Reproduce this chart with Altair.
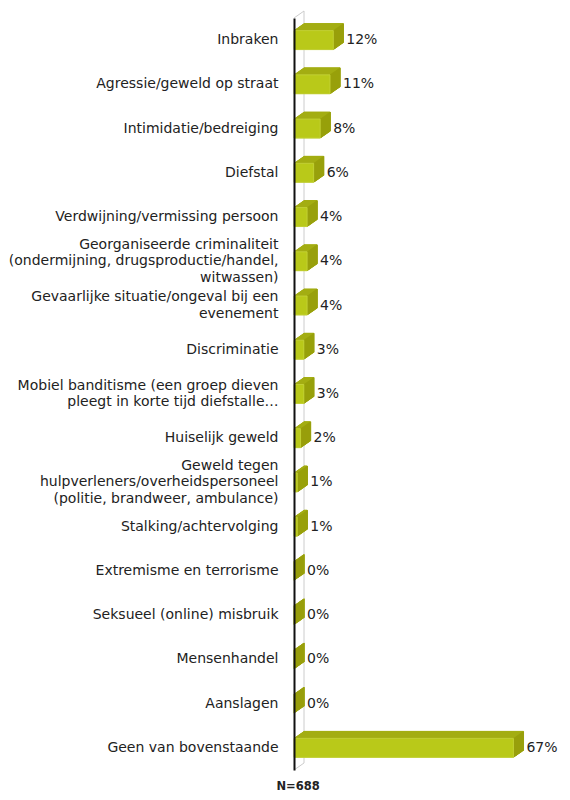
import altair as alt
import pandas as pd

categories = [
    "Inbraken",
    "Agressie/geweld op straat",
    "Intimidatie/bedreiging",
    "Diefstal",
    "Verdwijning/vermissing persoon",
    "Georganiseerde criminaliteit|(ondermijning, drugsproductie/handel,|witwassen)",
    "Gevaarlijke situatie/ongeval bij een|evenement",
    "Discriminatie",
    "Mobiel banditisme (een groep dieven|pleegt in korte tijd diefstalle…",
    "Huiselijk geweld",
    "Geweld tegen|hulpverleners/overheidspersoneel|(politie, brandweer, ambulance)",
    "Stalking/achtervolging",
    "Extremisme en terrorisme",
    "Seksueel (online) misbruik",
    "Mensenhandel",
    "Aanslagen",
    "Geen van bovenstaande",
]
values = [12, 11, 8, 6, 4, 4, 4, 3, 3, 2, 1, 1, 0, 0, 0, 0, 67]
footnote = "N=688"

FRONT = "#B9C919"
TOP = "#A3AD12"
SIDE = "#98A00C"
FONT = "DejaVu Sans"
W, H = 262, 752
DX, DY = 10, -7
LH = 16.5

df = pd.DataFrame({"cat": categories, "value": values})
wall = pd.DataFrame({"x0": [0]})

label_offset = {
    "condition": [
        {"test": "length(split(datum.value, '|')) == 3", "value": -LH},
        {"test": "length(split(datum.value, '|')) == 2", "value": -LH / 2},
    ],
    "value": 0,
}

yenc = alt.Y(
    "cat:N",
    sort=categories,
    title=None,
    scale=alt.Scale(paddingInner=0.0, paddingOuter=0.0),
    axis=alt.Axis(
        labelExpr="split(datum.label, '|')",
        labelFont=FONT,
        labelFontSize=14,
        labelColor="#222222",
        labelLineHeight=LH,
        labelPadding=16,
        labelLimit=400,
        labelOffset=label_offset,
        minExtent=286,
        ticks=False,
        domain=True,
        domainColor="#111111",
        domainWidth=2,
        grid=False,
        zindex=1,
    ),
)
xscale = alt.Scale(domain=[0, 80], nice=False)
xenc = alt.X("value:Q", scale=xscale, axis=None)

base = alt.Chart(df)
wbase = alt.Chart(wall)

layers = []
# back wall (gray) with diagonal joins
layers.append(
    wbase.mark_rule(color="#cccccc", strokeWidth=1, xOffset=DX, yOffset=DY, y2Offset=DY).encode(
        x=alt.X("x0:Q", scale=xscale, axis=None), y=alt.value(0), y2=alt.value(H)
    )
)
layers.append(
    wbase.mark_rule(color="#cccccc", strokeWidth=1, x2Offset=DX, y2Offset=DY).encode(
        x=alt.X("x0:Q", scale=xscale, axis=None), x2="x0:Q", y=alt.value(0), y2=alt.value(0)
    )
)
layers.append(
    wbase.mark_rule(color="#cccccc", strokeWidth=1, x2Offset=DX, y2Offset=DY).encode(
        x=alt.X("x0:Q", scale=xscale, axis=None), x2="x0:Q", y=alt.value(H), y2=alt.value(H)
    )
)
steps = [k * 0.5 for k in range(1, 21)]
# top face: stacked shifted copies
for off in steps:
    layers.append(
        base.mark_bar(
            size=19, color=TOP, stroke=TOP, strokeWidth=1,
            xOffset=off, yOffset=off * DY / DX,
        ).encode(y=yenc, x=xenc)
    )
# side face: shifted copies of the bar's right edge
for off in steps:
    layers.append(
        base.mark_bar(
            size=19, color=SIDE, stroke=SIDE, strokeWidth=1.2,
            xOffset=off, x2Offset=off, yOffset=off * DY / DX,
        ).encode(y=yenc, x=xenc, x2="value:Q")
    )
# front face
layers.append(
    base.mark_bar(size=19, color=FRONT, stroke="#C6D43C", strokeWidth=0.8).encode(y=yenc, x=xenc)
)
# value labels
layers.append(
    base.mark_text(align="left", baseline="middle", dx=DX + 3, font=FONT, fontSize=14, color="#222222")
    .transform_calculate(lbl="datum.value + '%'")
    .encode(y=yenc, x=xenc, text="lbl:N")
)

chart = (
    alt.layer(*layers)
    .properties(
        width=W,
        height=H,
        padding={"top": 2, "bottom": 0, "left": 0, "right": 0},
        background="white",
        title=alt.TitleParams(
            footnote, orient="bottom", anchor="start", align="center", frame="group", dx=4,
            font=FONT, fontSize=11.5, fontWeight="bold", color="#222222", offset=10,
        ),
    )
    .configure_view(stroke=None)
)

chart.save("out.html", embed_options={"renderer": "svg", "actions": False})
